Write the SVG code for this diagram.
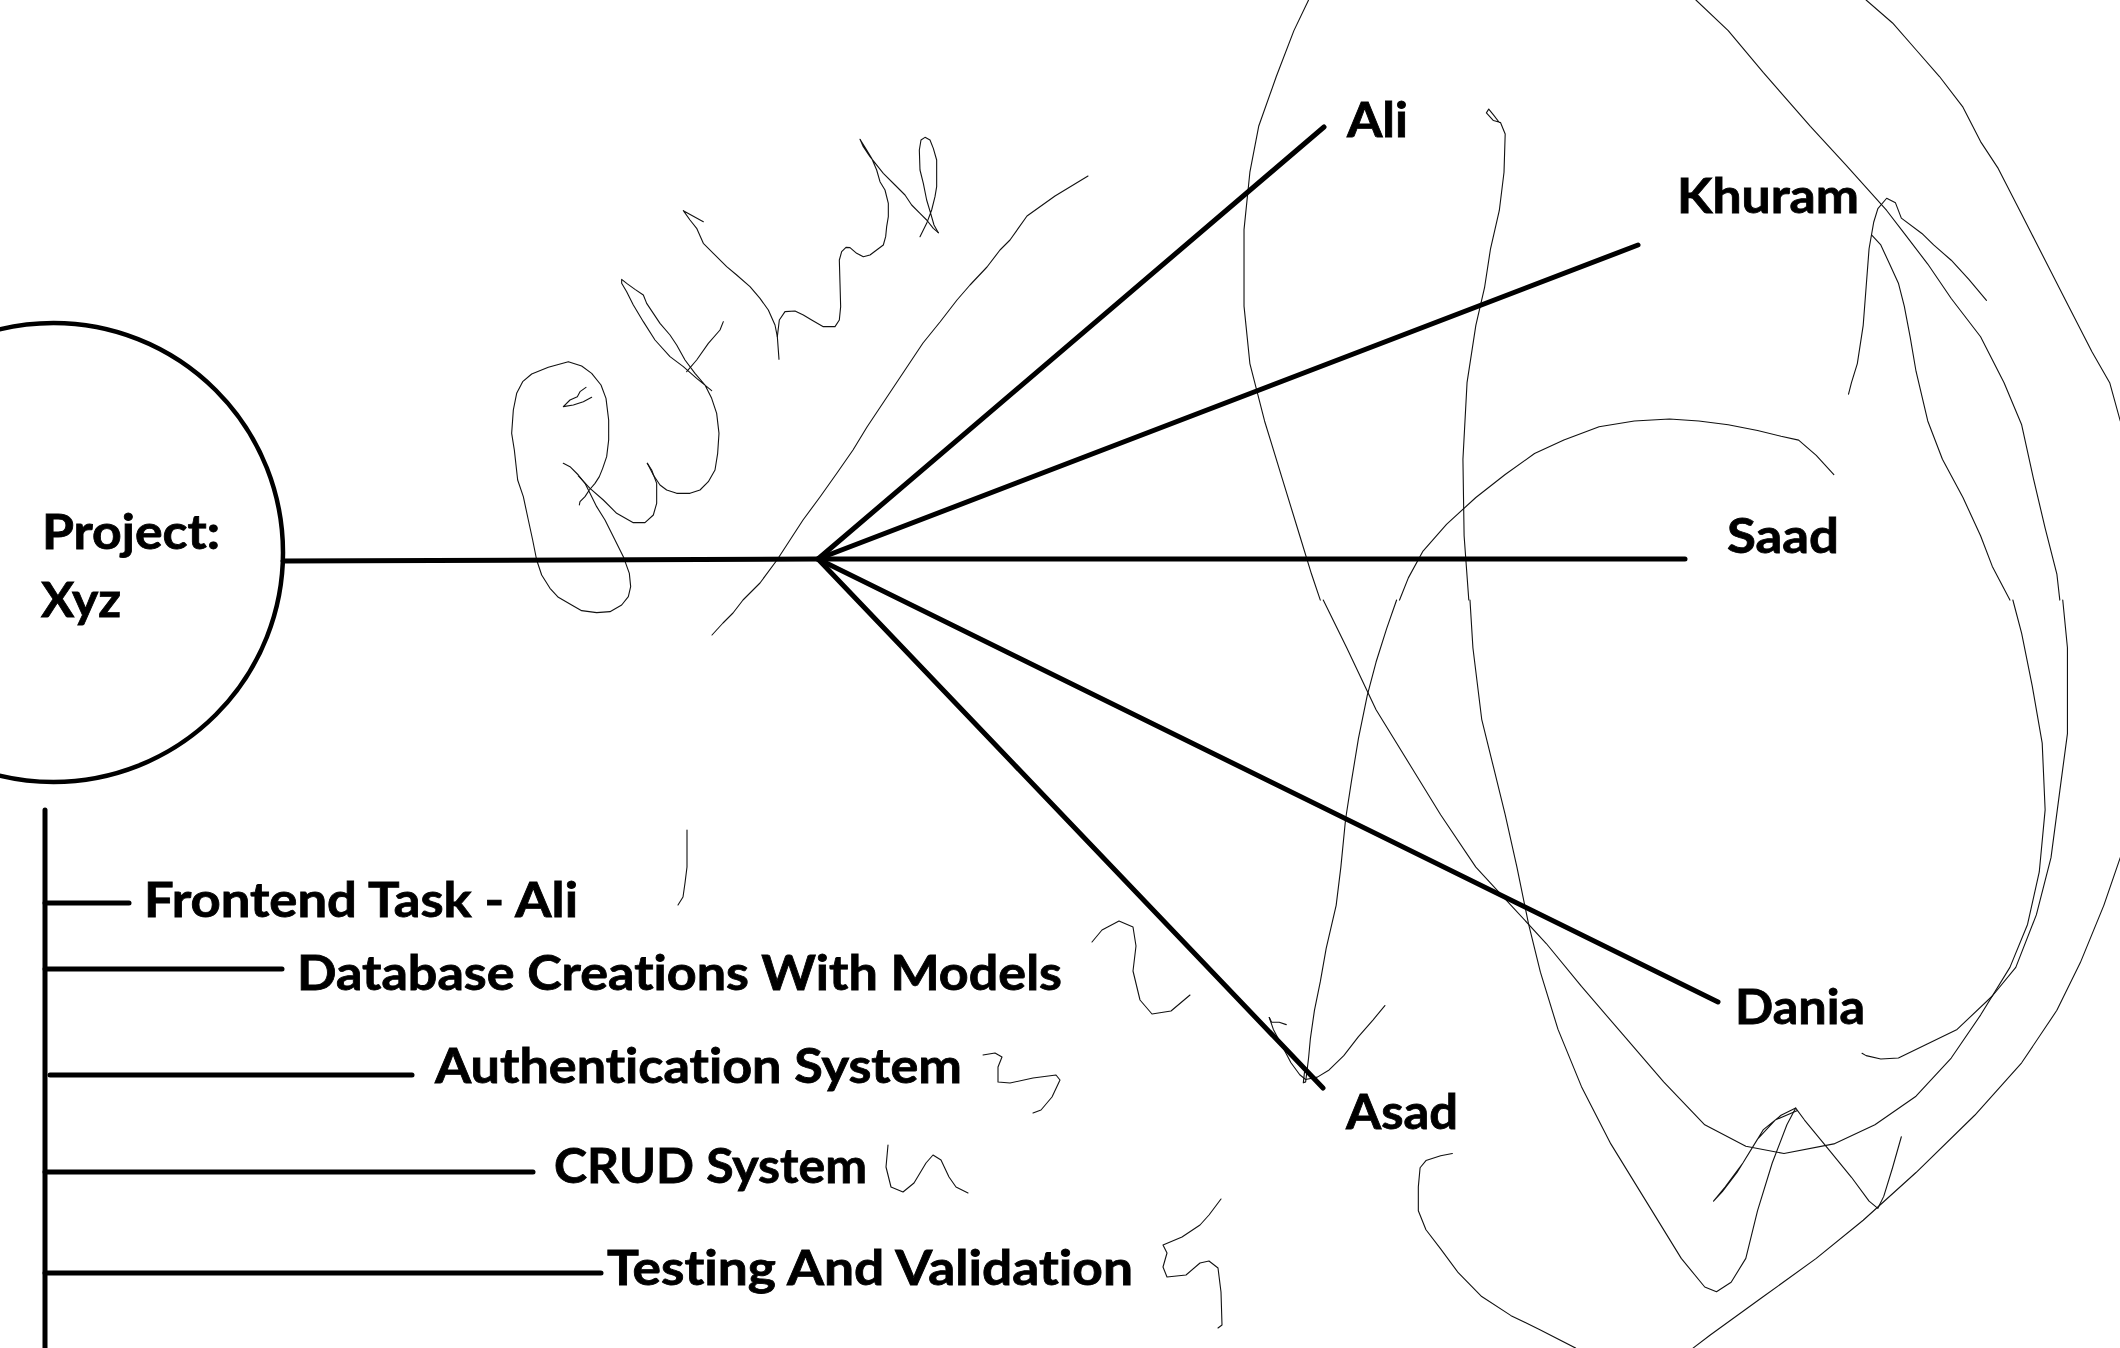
<svg xmlns="http://www.w3.org/2000/svg" width="2120" height="1348" viewBox="0 0 2120 1348">
<style>
.t{font-family:"Lato","Liberation Sans",sans-serif;font-weight:700;font-size:48px;fill:#000;stroke:#000;stroke-width:0.8px;font-variant-ligatures:none}
.ln{stroke:#000;stroke-width:5;stroke-linecap:round;fill:none}
.sc{stroke:#111;stroke-width:1.1;fill:none;stroke-linejoin:round;stroke-linecap:round;vector-effect:non-scaling-stroke}
</style>
<rect width="2120" height="1348" fill="#fff"/>
<g id="scribbles">
<g transform="translate(490,120) scale(0.33333)">
<path class="sc" d="M268,1155 L270,1145 285,1130 298,1110 315,1090 328,1070 338,1045 350,1010 356,960 356,900 348,835 333,795 305,760 275,738 235,725 175,742 125,762 98,785 80,820 70,870 65,940 73,990 83,1080 100,1130 115,1200 128,1260 140,1320 155,1365 180,1405 205,1432 245,1455 275,1472 320,1478 360,1475 395,1455 415,1430 422,1400 418,1360 400,1310 375,1260 345,1200 320,1160 300,1120 285,1090 265,1065 240,1040 220,1030"/>
<path class="sc" d="M265,1068 L300,1105 340,1140 380,1180 430,1208 465,1208 490,1185 500,1150 500,1090 485,1050 472,1030"/>
<path class="sc" d="M472,1030 L490,1065 510,1095 530,1110 560,1120 600,1120 630,1110 655,1085 675,1050 683,1000 687,940 680,880 665,835 645,795 615,760 585,720 560,675 540,645 510,610 490,580 470,550 460,525 435,508 410,490 395,478 395,490 410,515 430,555 460,605 495,660 540,710 580,740 620,775 665,812"/>
<path class="sc" d="M590,755 L620,720 655,670 690,630 700,605"/>
<path class="sc" d="M288,802 L270,815 262,830 240,840 220,860 250,855 280,845 305,832"/>
<path class="sc" d="M580,272 L640,305 M580,272 L600,300 620,325 640,370 670,400 710,440 740,465 780,500 810,535 835,570 855,615 862,650 867,718"/>
<path class="sc" d="M862,650 L868,600 885,575 915,573 940,585 965,600 1000,620 1035,620 1048,600 1052,560 1050,490 1048,420 1055,395 1068,382 1080,383 1100,400 1120,410 1140,405 1160,390 1180,375 1187,350 1190,320 1195,290 1195,250 1185,210 1170,185 1160,150 1145,115 1130,90 1110,58 1120,80 1140,110 1180,160 1215,195 1245,225 1265,255 1290,280 1310,300 1330,325 1345,338"/>
<path class="sc" d="M1290,350 L1310,310 1325,270 1335,230 1340,200 1340,120 1330,85 1320,60 1305,52 1293,60 1288,90 1290,150 1300,190 1310,240 1322,280 1332,315 1345,338"/>
</g>
<path class="sc" d="M1088,176 L1055,196 1027,216 1010,240 1000,250 987,267 970,285 957,300 940,322 923,343 903,373 883,403 867,427 853,450 837,473 820,497 803,520 790,540 777,560 760,583 743,600 733,613 723,623 712,635"/>
<g transform="translate(1200,0) scale(0.5869,0.3827)">
<path class="sc" d="M185,0 L160,80 130,200 100,330 85,450 75,600 75,800 85,950 110,1100 140,1250 170,1400 190,1500 205,1568"/>
<path class="sc" d="M845,0 L900,80 960,190 1040,330 1100,430 1170,550 1200,610 1240,690 1280,780 1330,880 1370,1000 1400,1110 1420,1250 1440,1380 1460,1500 1465,1568"/>
<path class="sc" d="M1135,0 L1180,60 1220,130 1260,200 1300,280 1330,370 1360,440 1400,560 1440,680 1480,800 1520,920 1550,1000 1568,1100"/>
<path class="sc" d="M1340,785 L1310,730 1280,680 1250,640 1230,610 1195,570 1185,530 1170,518 1155,545 1148,580 1140,650 1135,750 1130,850 1120,950 1110,1000 1105,1030"/>
<path class="sc" d="M1145,615 L1160,640 1175,690 1190,740 1200,800 1210,880 1220,970 1240,1100 1265,1200 1300,1300 1330,1400 1350,1480 1380,1568"/>
<path class="sc" d="M1080,1240 L1050,1190 1020,1150 990,1140 950,1125 900,1110 850,1100 800,1095 740,1100 680,1115 620,1150 570,1185 520,1240 470,1300 420,1370 380,1440 355,1510 340,1568"/>
<path class="sc" d="M458,1568 L450,1400 448,1200 455,1000 470,850 485,750 495,650 510,550 518,450 520,350 512,320 500,315 488,295 492,285 500,300 510,320"/>
</g>
<g transform="translate(1200,600) scale(0.5869,0.4771)">
<path class="sc" d="M210,0 L250,100 300,230 360,350 410,450 470,560 530,640 590,720 650,810 720,910 790,1010 860,1100 930,1145 995,1160 1080,1140 1150,1100 1220,1040 1280,960 1330,870 1380,770 1410,680 1430,570 1440,440 1435,300 1418,180 1400,70 1385,0"/>
<path class="sc" d="M1470,0 L1478,100 1478,280 1465,400 1450,540 1425,660 1390,770 1350,830 1290,900 1240,930 1190,960 1160,962 1135,955 1128,950"/>
<path class="sc" d="M460,0 L465,100 480,250 500,350 520,450 540,560 560,680 580,780 610,900 650,1020 700,1140 760,1260 820,1380 860,1440 880,1450 905,1430 930,1380 950,1280 975,1180 1000,1100 1015,1065 1030,1090 1070,1150 1110,1210 1140,1260 1155,1275 1165,1250 1180,1190 1195,1125"/>
<path class="sc" d="M1015,1065 L990,1080 960,1110 940,1150 915,1200 890,1240 875,1260 895,1230 925,1180 950,1130 980,1090 1018,1070"/>
<path class="sc" d="M335,0 L318,60 300,130 285,200 270,290 258,380 248,460 240,560 232,640 215,730 205,800 195,860 188,920 185,960 180,1010 176,1012 178,990"/>
<path class="sc" d="M118,875 L125,900 140,935 155,970 170,995 180,1005 200,1000 220,985 245,955 270,915 295,880 315,850"/>
<path class="sc" d="M118,875 L122,885 135,885 147,890"/>
<path class="sc" d="M1568,540 L1540,640 1500,760 1460,860 1400,970 1320,1080 1220,1200 1130,1300 1050,1380 960,1460 870,1540 840,1568"/>
<path class="sc" d="M430,1160 L410,1165 385,1175 375,1190 372,1230 372,1280 385,1320 410,1360 440,1410 480,1460 530,1500 580,1530 640,1568"/>
</g>
<path class="sc" d="M687,830 L687,867 685,883 683,897 678,905"/>
<path class="sc" d="M1092,942 L1102,930 1119,921 1133,927 1136,946 1133,971 1140,1000 1152,1014 1171,1011 1190,995"/>
<path class="sc" d="M983,1055 L995,1053 1002,1057 998,1067 998,1082 1010,1083 1033,1078 1056,1075 1060,1080 1052,1097 1041,1110 1033,1113"/>
<path class="sc" d="M888,1145 L886,1167 891,1187 903,1192 914,1183 926,1163 933,1155 941,1160 949,1177 956,1187 968,1193"/>
<path class="sc" d="M1221,1199 L1209,1215 1200,1225 1182,1237 1163,1245 1167,1253 1163,1267 1167,1277 1186,1275 1200,1263 1209,1261 1218,1268 1221,1292 1222,1325 1218,1328"/>
</g>
<g id="connectors">
<line class="ln" x1="283" y1="561" x2="818" y2="559"/>
<line class="ln" x1="818" y1="559" x2="1324" y2="127"/>
<line class="ln" x1="818" y1="559" x2="1638" y2="245"/>
<line class="ln" x1="818" y1="559" x2="1685" y2="559"/>
<line class="ln" x1="818" y1="559" x2="1718" y2="1002"/>
<line class="ln" x1="818" y1="559" x2="1323" y2="1088"/>
<line class="ln" x1="45" y1="810" x2="45" y2="1352"/>
<line class="ln" x1="45" y1="903" x2="129" y2="903"/>
<line class="ln" x1="45" y1="969" x2="282" y2="969"/>
<line class="ln" x1="50" y1="1075" x2="412" y2="1075"/>
<line class="ln" x1="45" y1="1172" x2="533" y2="1172"/>
<line class="ln" x1="45" y1="1273" x2="601" y2="1273"/>
</g>
<g id="project">
<circle cx="53.5" cy="552.5" r="229.5" fill="none" stroke="#000" stroke-width="4.5"/>
<text class="t" x="42" y="549" textLength="178" lengthAdjust="spacingAndGlyphs">Project:</text>
<text class="t" x="41" y="617" textLength="80" lengthAdjust="spacingAndGlyphs">Xyz</text>
</g>
<g id="ali"><text class="t" x="1347" y="137" textLength="61" lengthAdjust="spacingAndGlyphs">Ali</text></g>
<g id="khuram"><text class="t" x="1677" y="213" textLength="182" lengthAdjust="spacingAndGlyphs">Khuram</text></g>
<g id="saad"><text class="t" x="1727" y="553" textLength="112" lengthAdjust="spacingAndGlyphs">Saad</text></g>
<g id="dania"><text class="t" x="1735" y="1024" textLength="130" lengthAdjust="spacingAndGlyphs">Dania</text></g>
<g id="asad"><text class="t" x="1346" y="1129" textLength="112" lengthAdjust="spacingAndGlyphs">Asad</text></g>
<g id="task-frontend"><text class="t" x="144" y="917" textLength="434" lengthAdjust="spacingAndGlyphs">Frontend Task - Ali</text></g>
<g id="task-database"><text class="t" x="297" y="990" textLength="765" lengthAdjust="spacingAndGlyphs">Database Creations With Models</text></g>
<g id="task-auth"><text class="t" x="435" y="1083" textLength="527" lengthAdjust="spacingAndGlyphs">Authentication System</text></g>
<g id="task-crud"><text class="t" x="554" y="1183" textLength="313" lengthAdjust="spacingAndGlyphs">CRUD System</text></g>
<g id="task-testing"><text class="t" x="607" y="1285" textLength="526" lengthAdjust="spacingAndGlyphs">Testing And Validation</text></g>
</svg>
